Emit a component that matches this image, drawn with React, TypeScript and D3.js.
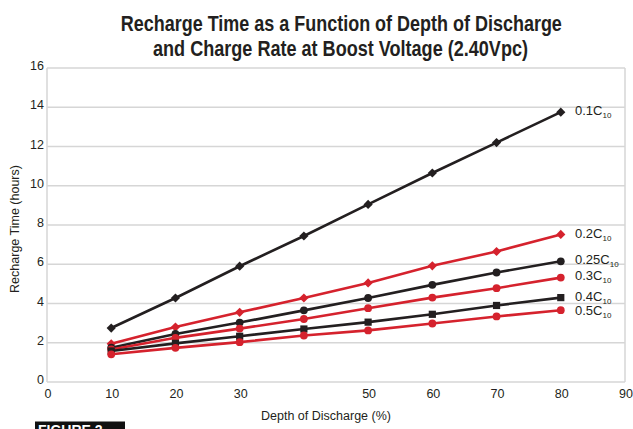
import React, { useLayoutEffect, useRef, useState } from "react";
import * as d3 from "d3";

const depths = [10, 20, 30, 40, 50, 60, 70, 80];
const xTicks = [0, 10, 20, 30, 50, 60, 70, 80, 90];
const yTicks = [0, 2, 4, 6, 8, 10, 12, 14, 16];

const rate01 = [2.75, 4.28, 5.9, 7.44, 9.05, 10.65, 12.2, 13.75];
const rate02 = [1.95, 2.8, 3.55, 4.28, 5.05, 5.92, 6.65, 7.52];
const rate025 = [1.75, 2.45, 3.03, 3.65, 4.28, 4.95, 5.58, 6.15];
const rate03 = [1.66, 2.25, 2.72, 3.21, 3.76, 4.3, 4.78, 5.32];
const rate04 = [1.58, 1.97, 2.33, 2.7, 3.05, 3.45, 3.9, 4.3];
const rate05 = [1.41, 1.74, 2.03, 2.37, 2.63, 2.98, 3.34, 3.66];

const seriesNames = ["0.1C", "0.2C", "0.25C", "0.3C", "0.4C", "0.5C"];
const titleLines = [
  "Recharge Time as a Function of Depth of Discharge",
  "and Charge Rate at Boost Voltage (2.40Vpc)",
];

const BLACK = "#231f20";
const RED = "#d5222d";

type Series = { name: string; values: number[]; color: string; marker: string; labelY: number };

const series: Series[] = [
  { name: seriesNames[0], values: rate01, color: BLACK, marker: "diamond", labelY: 110 },
  { name: seriesNames[1], values: rate02, color: RED, marker: "diamond", labelY: 233 },
  { name: seriesNames[2], values: rate025, color: BLACK, marker: "circle", labelY: 259 },
  { name: seriesNames[3], values: rate03, color: RED, marker: "circle", labelY: 275.5 },
  { name: seriesNames[4], values: rate04, color: BLACK, marker: "square", labelY: 296 },
  { name: seriesNames[5], values: rate05, color: RED, marker: "circle", labelY: 310.5 },
];

export default function App() {
  const W = 633;
  const H = 429;
  const x = d3.scaleLinear().domain([0, 90]).range([47, 625]);
  const y = d3.scaleLinear().domain([0, 16]).range([382, 68]);
  const line = d3
    .line<number>()
    .x((_, i) => x(depths[i]))
    .y((d) => y(d));

  const font = "'Liberation Sans', Arial, Helvetica, sans-serif";

  const t1 = useRef<SVGTextElement>(null);
  const t2 = useRef<SVGTextElement>(null);
  const [scales, setScales] = useState<[number, number]>([0.82, 0.82]);
  useLayoutEffect(() => {
    const a = t1.current ? t1.current.getComputedTextLength() : 0;
    const b = t2.current ? t2.current.getComputedTextLength() : 0;
    setScales([a > 0 ? 441 / a : 0.82, b > 0 ? 375 / b : 0.82]);
  }, []);

  const marker = (s: Series, v: number, i: number) => {
    const cx = x(depths[i]);
    const cy = y(v);
    if (s.marker === "diamond") {
      const r = 4.6;
      return (
        <path
          key={i}
          d={`M${cx},${cy - r}L${cx + r},${cy}L${cx},${cy + r}L${cx - r},${cy}Z`}
          fill={s.color}
        />
      );
    }
    if (s.marker === "square") {
      return <rect key={i} x={cx - 3.6} y={cy - 3.6} width={7.2} height={7.2} fill={s.color} />;
    }
    return <circle key={i} cx={cx} cy={cy} r={3.9} fill={s.color} />;
  };

  return (
    <svg width={W} height={H} style={{ position: "absolute", left: 0, top: 0, background: "#fff" }}>
      <rect x={0} y={0} width={W} height={H} fill="#fff" />
      {/* Title */}
      <g fontFamily="'Liberation Sans', Arial, sans-serif" fontWeight="bold" fill={BLACK} fontSize={22.5}>
        <g transform={`translate(341.3,30.5) scale(${scales[0]},1)`}>
          <text ref={t1} x={0} y={0} textAnchor="middle">
            {titleLines[0]}
          </text>
        </g>
        <g transform={`translate(340.5,56) scale(${scales[1]},1)`}>
          <text ref={t2} x={0} y={0} textAnchor="middle">
            {titleLines[1]}
          </text>
        </g>
      </g>
      {/* Grid */}
      <g stroke="#d6d6d6" strokeWidth={1.5}>
        {yTicks.map((t) => (
          <line key={t} x1={x(0)} x2={x(90)} y1={y(t)} y2={y(t)} />
        ))}
        <line x1={x(0)} x2={x(0)} y1={y(0)} y2={y(16)} />
        <line x1={x(90)} x2={x(90)} y1={y(0)} y2={y(16)} />
      </g>
      {/* Y ticks */}
      <g fontFamily={font} fontSize={12.5} fill={BLACK} textAnchor="end">
        {yTicks.map((t) => (
          <text key={t} x={44} y={y(t) + 2}>
            {t}
          </text>
        ))}
      </g>
      {/* X ticks */}
      <g fontFamily={font} fontSize={12.5} fill={BLACK} textAnchor="middle">
        {xTicks.map((t) => (
          <text key={t} x={x(t) + 1} y={397.5}>
            {t}
          </text>
        ))}
      </g>
      {/* Axis titles */}
      <text
        fontFamily={font}
        fontSize={12.5}
        fill={BLACK}
        textAnchor="middle"
        transform={`translate(19,229) rotate(-90)`}
      >
        Recharge Time (hours)
      </text>
      <text fontFamily={font} fontSize={12.5} fill={BLACK} textAnchor="middle" x={326} y={419.5}>
        Depth of Discharge (%)
      </text>
      {/* Series */}
      {series.map((s) => (
        <g key={s.name}>
          <path d={line(s.values) || ""} fill="none" stroke={s.color} strokeWidth={2.6} />
          {s.values.map((v, i) => marker(s, v, i))}
        </g>
      ))}
      {/* Series labels */}
      <g fontFamily={font} fill={BLACK}>
        {series.map((s) => (
          <text key={s.name} x={575} y={s.labelY + 4.5} fontSize={13}>
            {s.name}
            <tspan fontSize={8} dy={3}>
              10
            </tspan>
          </text>
        ))}
      </g>
      {/* Figure label box (cropped at page edge, as in the reference) */}
      <rect x={35} y={421.5} width={90} height={8} fill="#111" />
      <text x={38} y={435} fontFamily={font} fontWeight="bold" fontSize={14} fill="#fff">
        FIGURE 2
      </text>
    </svg>
  );
}
